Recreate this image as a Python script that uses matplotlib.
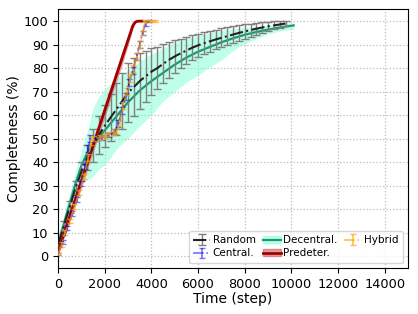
import matplotlib
matplotlib.use("Agg")
import matplotlib.pyplot as plt
from matplotlib.patches import Patch

# Random (mean +- std)
rand_t = [0, 250, 500, 750, 1000, 1250, 1500, 1750, 2000, 2250, 2500, 2750, 3000, 3250,
          3500, 3750, 4000, 4250, 4500, 4750, 5000, 5250, 5500, 5750, 6000, 6250, 6500,
          6750, 7000, 7250, 7500, 7750, 8000, 8250, 8500, 8750, 9000, 9250, 9500, 9750]
rand_mean = [5, 13, 21, 29, 36, 42, 47, 51.5, 55.5, 59, 62.5, 66, 69.5, 72,
             74.5, 76.5, 78.5, 80, 81.8, 83.5, 85, 86.3, 87.5, 88.7, 89.7, 90.6, 91.4,
             92.2, 92.9, 93.6, 94.3, 95, 95.6, 96.2, 96.8, 97.3, 97.8, 98.2, 98.6, 99]
rand_std = [1, 2, 2.5, 3, 4, 5.5, 7, 8, 9, 10, 11, 12, 12.5, 12.5,
            12, 11, 10, 9, 8.3, 7.6, 7, 6.3, 5.8, 5.3, 5, 4.7, 4.4,
            4.2, 4, 3.8, 3.6, 3.4, 3.1, 2.8, 2.5, 2.2, 2, 1.7, 1.4, 1]

# Central
cen_t = [0, 200, 400, 600, 800, 1000, 1150, 1300, 1370, 1600, 1900, 2200, 2450, 2585,
         2750, 2900, 3050, 3200, 3370, 3500, 3620, 3750, 3900]
cen_mean = [1, 6, 12, 18, 24, 31, 38, 46, 50, 50, 50.5, 51.5, 53, 56.5,
            62, 68, 74, 79, 85, 90, 95, 99, 100]
cen_std = [0.5, 1, 1, 1, 1, 1, 1, 1.5, 1.5, 1, 1, 1, 1, 1.5,
           1.5, 1.5, 1.5, 1.5, 1.5, 1.5, 1, 1, 0.5]

# Decentralised (mean and band)
dec_t = [0, 250, 500, 750, 1000, 1250, 1500, 1750, 2000, 2250, 2500, 2750, 3000,
         3500, 4000, 4500, 5000, 5500, 6000, 6500, 7000, 7500, 8000, 8500, 9000, 9500, 10100]
dec_mean = [5, 14, 22.5, 31, 38.5, 44, 47.5, 50.5, 53.5, 56.5, 59.5, 62.5, 65.5,
            70.5, 74.5, 78, 81.5, 84.5, 87, 89, 91, 92.7, 94.2, 95.4, 96.4, 97.3, 98.2]
dec_lo = [3, 11, 18, 25, 31, 32.5, 34, 37, 39, 42, 45.5, 48, 50,
          55.5, 60, 66, 70, 74, 77, 80.5, 83.5, 87.5, 90.5, 92.5, 94.5, 95.8, 96.5]
dec_hi = [7, 17, 27, 36, 45, 53, 63, 68, 71, 73.5, 75.5, 77.5, 79,
          83, 86, 88.5, 90.8, 92.5, 93.8, 95, 96, 96.7, 97.3, 97.8, 98.3, 98.8, 99.3]

# Predetermined (mean and band)
pre_t = [0, 300, 600, 900, 1200, 1500, 1800, 2100, 2400, 2700, 2900, 3100, 3200, 3300, 3400, 3600]
pre_mean = [2, 11, 20, 29, 38, 47, 56, 65, 74, 83, 89, 95, 98, 99.5, 100, 100]
pre_lo = [0.5, 9, 17.5, 26, 35, 44, 53, 62, 71, 80, 86.5, 93, 96.5, 99, 100, 100]
pre_hi = [3.5, 13, 22.5, 32, 41, 50, 59, 68, 77, 86, 91.5, 97, 99.5, 100, 100, 100]

# Hybrid
hyb_t = [0, 150, 300, 500, 700, 900, 1100, 1300, 1430, 1550, 1800, 2000, 2200, 2400,
         2500, 2650, 2800, 2950, 3100, 3230, 3380, 3514, 3620, 3730, 3900, 4150]
hyb_mean = [1, 5, 10, 15, 21, 27, 34, 42, 49, 50, 50.5, 51, 52, 52.5,
            53, 57, 64, 70, 75.5, 80, 85, 90, 95, 100, 100, 100]
hyb_std = [0.5, 1, 1, 1, 1, 1, 1, 1.5, 1.5, 1, 1, 1, 1, 1,
           1, 1.5, 1.5, 1.5, 1.5, 1.5, 1.5, 1.5, 1, 0.5, 0.5, 0.5]

fig = plt.figure(figsize=(4.18, 3.14), dpi=100)
ax = fig.add_axes([0.139, 0.147, 0.837, 0.823])

ax.errorbar(rand_t, rand_mean, yerr=rand_std, fmt='-.', color='#222222', ecolor='grey',
            elinewidth=1, capsize=3, lw=1.5, label='Random', zorder=3)
ax.errorbar(cen_t, cen_mean, yerr=cen_std, fmt='-.', color='blue', alpha=0.55,
            capsize=2, lw=1.2, label='Central.', zorder=4)
ax.fill_between(dec_t, dec_lo, dec_hi, color='aquamarine', alpha=0.5, lw=0, zorder=1)
ax.plot(dec_t, dec_mean, '-', color='#179b76', lw=1.6, label='Decentral.', zorder=2)
ax.fill_between(pre_t, pre_lo, pre_hi, color='indianred', alpha=0.6, lw=0, zorder=2)
ax.plot(pre_t, pre_mean, '-', color='#a50000', lw=2, label='Predeter.', zorder=3)
ax.errorbar(hyb_t, hyb_mean, yerr=hyb_std, fmt='-.', color='orange', alpha=0.7,
            capsize=2, lw=1.2, label='Hybrid', zorder=4)

# legend: band patch under the line for the filled series
handles, labels = ax.get_legend_handles_labels()
order = ['Random', 'Central.', 'Decentral.', 'Predeter.', 'Hybrid']
hmap = dict(zip(labels, handles))
hmap['Decentral.'] = (Patch(color='aquamarine', alpha=0.5), hmap['Decentral.'])
hmap['Predeter.'] = (Patch(color='indianred', alpha=0.6), hmap['Predeter.'])
ax.legend([hmap[k] for k in order], order, loc='lower right', ncol=3, fontsize=7.5,
          handlelength=1.7, handletextpad=0.2, columnspacing=0.7, borderaxespad=0.5,
          labelspacing=0.3)

ax.set_xlim(0, 15000)
ax.set_ylim(-5, 105)
ax.set_xticks(range(0, 15000, 2000))
ax.set_yticks(range(0, 101, 10))
ax.tick_params(labelsize=9.3)
ax.grid(True, linestyle=':', color='#bbbbbb', lw=0.9)
ax.set_axisbelow(True)
ax.set_xlabel('Time (step)', fontsize=10, labelpad=1)
ax.set_ylabel('Completeness (%)', fontsize=10, labelpad=2)

fig.savefig('out.png', dpi=100)
